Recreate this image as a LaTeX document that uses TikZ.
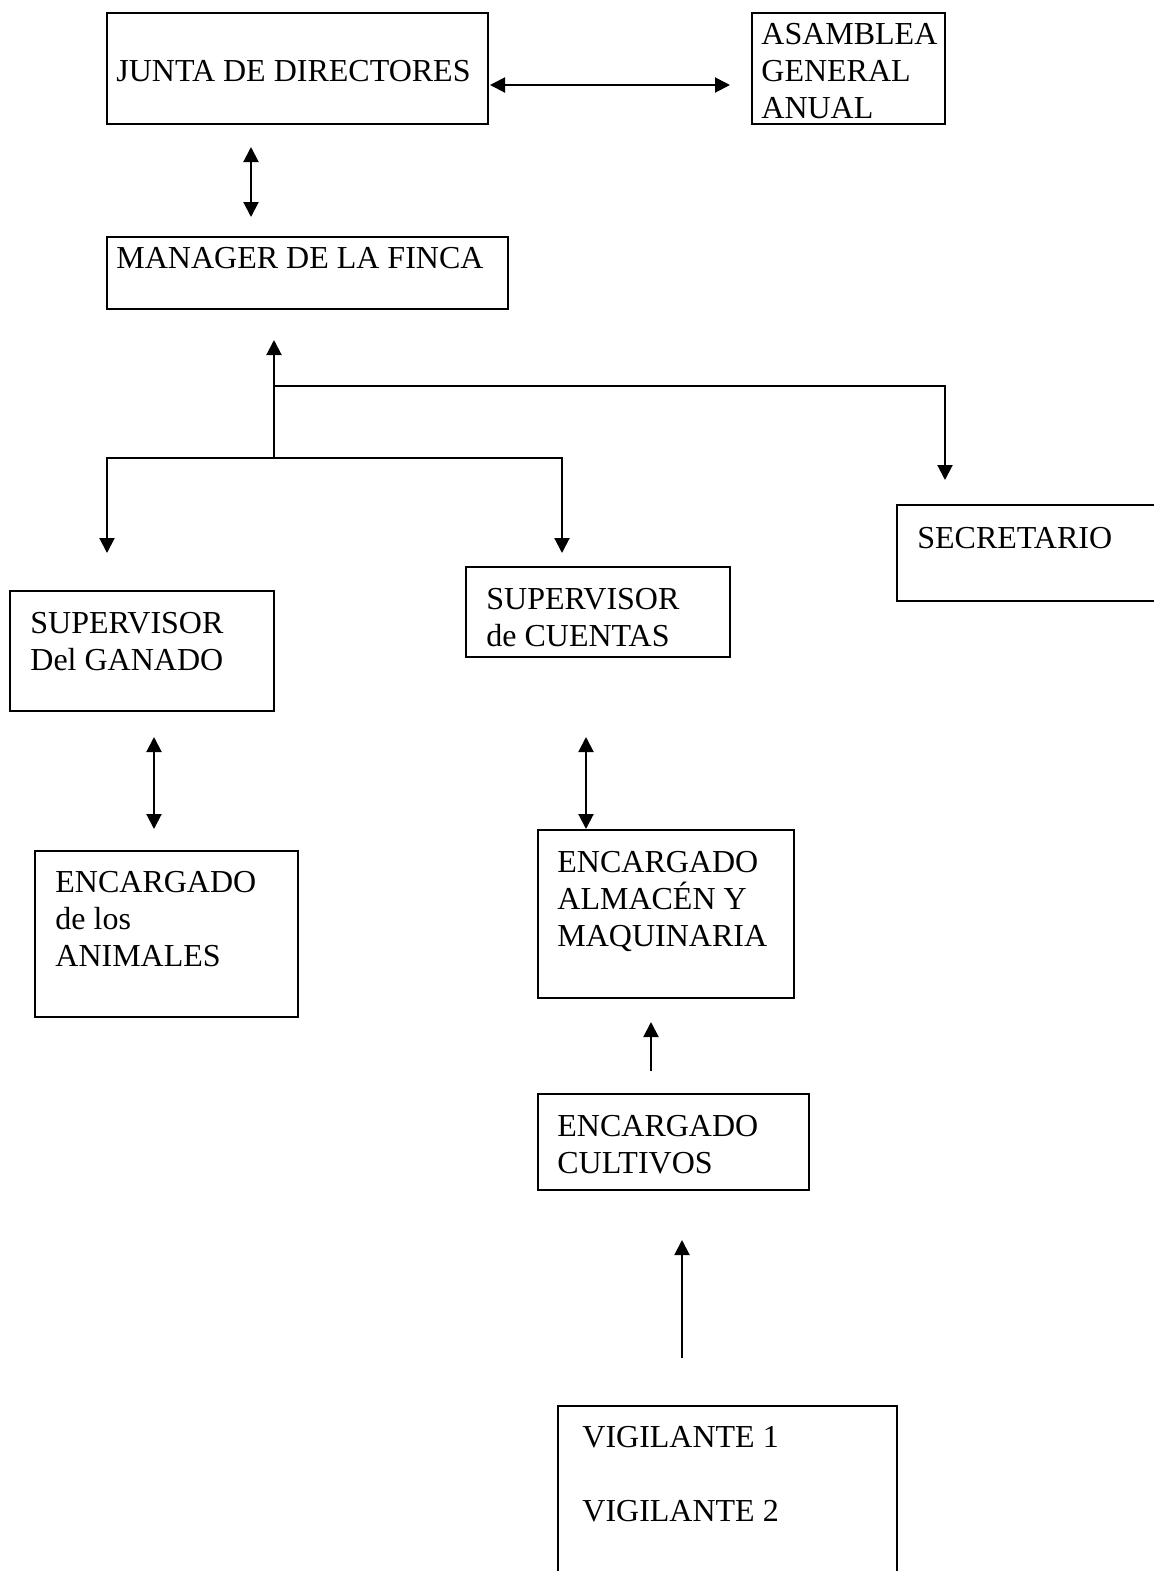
\documentclass[tikz,border=0pt]{standalone}
\usepackage{fontspec}
\setmainfont{Liberation Serif}
\usetikzlibrary{calc}
\usetikzlibrary{fit}
\usetikzlibrary{arrows.meta}

\tikzset{
  box/.style={draw, line width=1pt, inner sep=0pt},
  txt/.style={anchor=north west, align=left, inner sep=0pt, font=\fontsize{16}{18.4}\selectfont},
  arr/.style={line width=1pt, -{Triangle[length=7.5pt,width=7.5pt]}},
  dbl/.style={line width=1pt, {Triangle[length=7.5pt,width=7.5pt]}-{Triangle[length=7.5pt,width=7.5pt]}}
}

\begin{document}
\begin{tikzpicture}[x=0.5pt,y=-0.5pt]

\useasboundingbox (0,0) rectangle (1154,1571);
\clip (0,0) rectangle (1154,1571);

% boxes
\node[box, fit={(107,13) (488,124)}] (junta) {};
\node[box, fit={(752,13) (945,124)}] (asamblea) {};
\node[box, fit={(107,237) (508,309)}] (manager) {};
\node[box, fit={(897,505) (1170,601)}] (secretario) {};
\node[box, fit={(10,591) (274,711)}] (supGanado) {};
\node[box, fit={(466,567) (730,657)}] (supCuentas) {};
\node[box, fit={(35,851) (298,1017)}] (encAnimales) {};
\node[box, fit={(538,830) (794,998)}] (encAlmacen) {};
\node[box, fit={(538,1094) (809,1190)}] (encCultivos) {};
\node[box, fit={(558,1406) (897,1590)}] (vigilantes) {};

% texts
\node[txt] at ($(junta.north west)+(10,48)$) {JUNTA DE DIRECTORES};
\node[txt] at ($(asamblea.north west)+(10,11)$) {ASAMBLEA\\GENERAL\\ANUAL};
\node[txt] at ($(manager.north west)+(10,11)$) {MANAGER DE LA FINCA};
\node[txt] at ($(secretario.north west)+(21,23)$) {SECRETARIO};
\node[txt] at ($(supGanado.north west)+(21,22)$) {SUPERVISOR\\Del GANADO};
\node[txt] at ($(supCuentas.north west)+(21,22)$) {SUPERVISOR\\de CUENTAS};
\node[txt] at ($(encAnimales.north west)+(21,21)$) {ENCARGADO\\de los\\ANIMALES};
\node[txt] at ($(encAlmacen.north west)+(20,22)$) {ENCARGADO\\ALMACÉN Y\\MAQUINARIA};
\node[txt] at ($(encCultivos.north west)+(20,22)$) {ENCARGADO\\CULTIVOS};
\node[txt] at ($(vigilantes.north west)+(25,21)$) {VIGILANTE 1\\[18.4pt]VIGILANTE 2};

% arrow ends
\coordinate (juntaR) at (490,85);
\coordinate (asambleaL) at (730,85);
\coordinate (juntaB) at (251,147);
\coordinate (managerT) at (251,217);
\coordinate (mgrTip) at (274,340);
\coordinate (secJoin) at (274,386);
\coordinate (fork) at (274,458);
\coordinate (secTip) at (945,480);
\coordinate (ganTip) at (107,553);
\coordinate (cueTip) at (562,553);
\coordinate (ganB) at (154,737);
\coordinate (animT) at (154,829);
\coordinate (cueB) at (586,737);
\coordinate (almT) at (586,829);
\coordinate (cultS) at (651,1071);
\coordinate (almB) at (651,1022);
\coordinate (vigS) at (682,1358);
\coordinate (cultB) at (682,1240);

% connectors
\draw[dbl] (juntaR) -- (asambleaL);
\draw[dbl] (juntaB) -- (managerT);
\draw[arr] (fork) -- (mgrTip);
\draw[arr] (secJoin) -| (secTip);
\draw[arr] (fork) -| (ganTip);
\draw[arr] (fork) -| (cueTip);
\draw[dbl] (ganB) -- (animT);
\draw[dbl] (cueB) -- (almT);
\draw[arr] (cultS) -- (almB);
\draw[arr] (vigS) -- (cultB);

\end{tikzpicture}
\end{document}
